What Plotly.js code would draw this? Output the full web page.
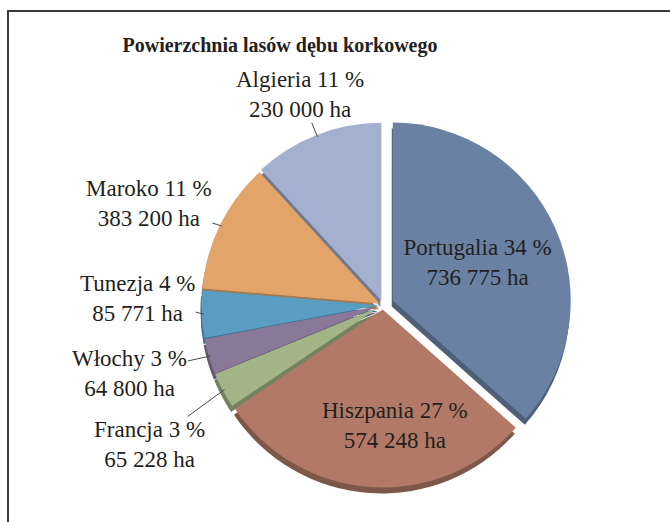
<!DOCTYPE html>
<html>
<head>
<meta charset="utf-8">
<script src="https://cdn.plot.ly/plotly-3.0.1.min.js"></script>
<style>
  html, body { margin: 0; padding: 0; background: #fff; }
  #frame { position: absolute; left: 7px; top: 10px; width: 670px; height: 522px;
           border-top: 2px solid #3a3a3a; border-left: 2px solid #3a3a3a; }
  #chart { position: absolute; left: 0; top: 0; width: 670px; height: 522px; }
</style>
</head>
<body>
<div id="frame"></div>
<div id="chart"></div>
<script>
// ---- data ----
const countries = ["Portugalia", "Hiszpania", "Francja", "Włochy", "Tunezja", "Maroko", "Algieria"];
const percents  = [34, 27, 3, 3, 4, 11, 11];
const areasHa   = [736775, 574248, 65228, 64800, 85771, 383200, 230000];
const pulls     = [0.06, 0.025, 0.02, 0.02, 0.02, 0.02, 0.025];

// ---- styles ----
const colors     = ["#6A81A3", "#B27A66", "#A3B486", "#8A7898", "#5A9DC2", "#E2A468", "#A3B0CF"];
const darkColors = ["#4E5F78", "#7E5749", "#75825F", "#65586F", "#41718C", "#A6774B", "#707A92"];
const positions  = ["inside", "none", "none", "none", "none", "none", "none"];
// label placement: kind, and pixel offsets from the slice's mid-angle anchor point
const labelKinds   = [null, "in", "out", "out", "out", "out", "out"];
const labelOffsets = [null, [20, -5], [-75, 55], [-81, 18], [-66, -16], [-73, -22], [-17, -42]];

function fmt(n) { return String(n).replace(/\B(?=(\d{3})+(?!\d))/g, " "); }
const labelsText = countries.map((c, i) => c + " " + percents[i] + " %<br>" + fmt(areasHa[i]) + " ha");

const W = 670, H = 522;
const cx = 383, cy = 305, r = 178, maxPull = Math.max(...pulls);
const half = r * (1 + maxPull);
function dom(dx, dy) {
  return {
    x: [(cx + dx - half) / W, (cx + dx + half) / W],
    y: [(H - (cy + dy) - half) / H, (H - (cy + dy) + half) / H]
  };
}
const txtFont = { family: "Liberation Serif", size: 23, color: "#231F20" };

const shadow = {
  type: "pie", values: percents, labels: countries, sort: false, direction: "clockwise", rotation: 0,
  pull: pulls, marker: { colors: darkColors, line: { width: 0 } },
  textinfo: "none", hoverinfo: "skip", showlegend: false, domain: dom(-1, 6)
};
const main = {
  type: "pie", values: percents, labels: countries, sort: false, direction: "clockwise", rotation: 0,
  pull: pulls, marker: { colors: colors, line: { width: 0 } },
  text: labelsText, textinfo: "text", textposition: positions,
  insidetextorientation: "horizontal",
  textfont: txtFont, insidetextfont: txtFont, outsidetextfont: txtFont,
  hoverinfo: "label+percent", showlegend: false, domain: dom(0, 0)
};

// labels anchored on each slice's mid-angle (derived from the data)
const total = percents.reduce((a, b) => a + b, 0);
const annotations = [];
let cum = 0;
percents.forEach((p, i) => {
  const mid = (cum + p / 2) / total * 2 * Math.PI;
  cum += p;
  if (!labelKinds[i]) return;
  const shift = r * pulls[i];
  if (labelKinds[i] === "in") {
    const rr = shift + r * 0.68;
    const px = cx + rr * Math.sin(mid), py = cy - rr * Math.cos(mid);
    annotations.push({
      xref: "paper", yref: "paper", x: px / W, y: 1 - py / H,
      xanchor: "center", yanchor: "middle",
      xshift: labelOffsets[i][0], yshift: -labelOffsets[i][1],
      text: labelsText[i], font: txtFont, align: "center", showarrow: false, borderpad: 0
    });
    return;
  }
  const rr = shift + r - 2;
  const px = cx + rr * Math.sin(mid), py = cy - rr * Math.cos(mid);
  annotations.push({
    xref: "paper", yref: "paper", x: px / W, y: 1 - py / H,
    axref: "pixel", ayref: "pixel", ax: labelOffsets[i][0], ay: labelOffsets[i][1],
    text: labelsText[i], font: txtFont, align: "center",
    showarrow: true, arrowhead: 0, arrowwidth: 1, arrowcolor: "#4a4a4a", standoff: 0, borderpad: 0
  });
});

const layout = {
  width: W, height: H,
  margin: { l: 0, r: 0, t: 0, b: 0 },
  paper_bgcolor: "rgba(0,0,0,0)", plot_bgcolor: "rgba(0,0,0,0)",
  showlegend: false,
  annotations: annotations,
  title: { text: "<b>Powierzchnia lasów dębu korkowego</b>", x: 280 / W, xanchor: "center",
           y: 1 - 45 / H, yanchor: "middle",
           font: { family: "Liberation Serif", size: 20, color: "#231F20" } }
};
Plotly.newPlot("chart", [shadow, main], layout, { displayModeBar: false, staticPlot: true });
</script>
</body>
</html>
